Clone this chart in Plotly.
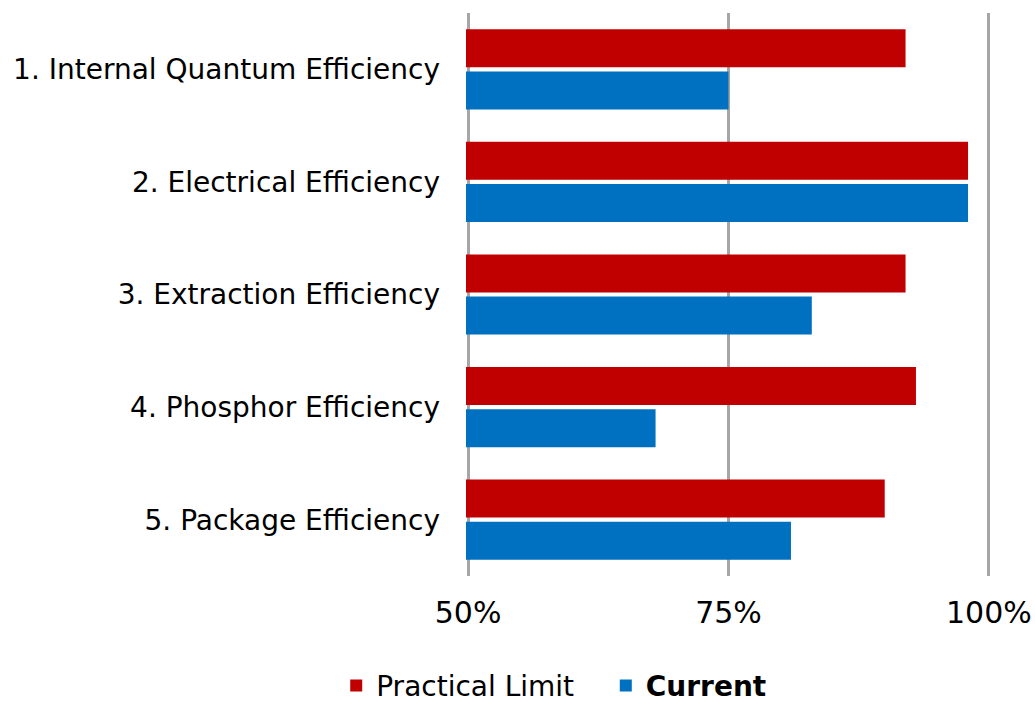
import plotly.graph_objects as go

categories = ["1. Internal Quantum Efficiency", "2. Electrical Efficiency",
              "3. Extraction Efficiency", "4. Phosphor Efficiency", "5. Package Efficiency"]
practical_limit = [92, 98, 92, 93, 90]
current = [75, 98, 83, 68, 81]
tick_vals = [50, 75, 100]
tick_text = ["50%", "75%", "100%"]

fig = go.Figure()
fig.add_trace(go.Bar(y=categories, x=practical_limit, orientation="h",
                     name="Practical Limit&nbsp;&nbsp;&nbsp;",
                     marker=dict(color="#C00000", line=dict(width=0))))
fig.add_trace(go.Bar(y=categories, x=current, orientation="h",
                     name="<b>Current</b>", marker=dict(color="#0070C0", line=dict(width=0))))

fig.update_layout(
    width=1035, height=708,
    margin=dict(l=466, r=43, t=13, b=132, autoexpand=False),
    paper_bgcolor="white", plot_bgcolor="white",
    barmode="group", bargap=0.25, bargroupgap=0.1,
    font=dict(family="DejaVu Sans, Liberation Sans, sans-serif", size=28, color="black"),
    legend=dict(orientation="h", x=0.535, xref="container", xanchor="center",
                y=-0.195, yref="paper", yanchor="middle",
                font=dict(size=28), itemwidth=30, traceorder="normal"),
    xaxis=dict(range=[49.8, 100.3], tickvals=tick_vals, ticktext=tick_text,
               showgrid=True, gridcolor="#A6A6A6", gridwidth=3,
               zeroline=False, showline=False, ticks="", ticklabelstandoff=16,
               tickfont=dict(size=30), automargin=False, fixedrange=True),
    yaxis=dict(autorange="reversed", showgrid=False, showline=False, ticks="",
               ticklabelstandoff=25, tickfont=dict(size=28), automargin=False,
               fixedrange=True),
)

fig.write_html("out.html")
